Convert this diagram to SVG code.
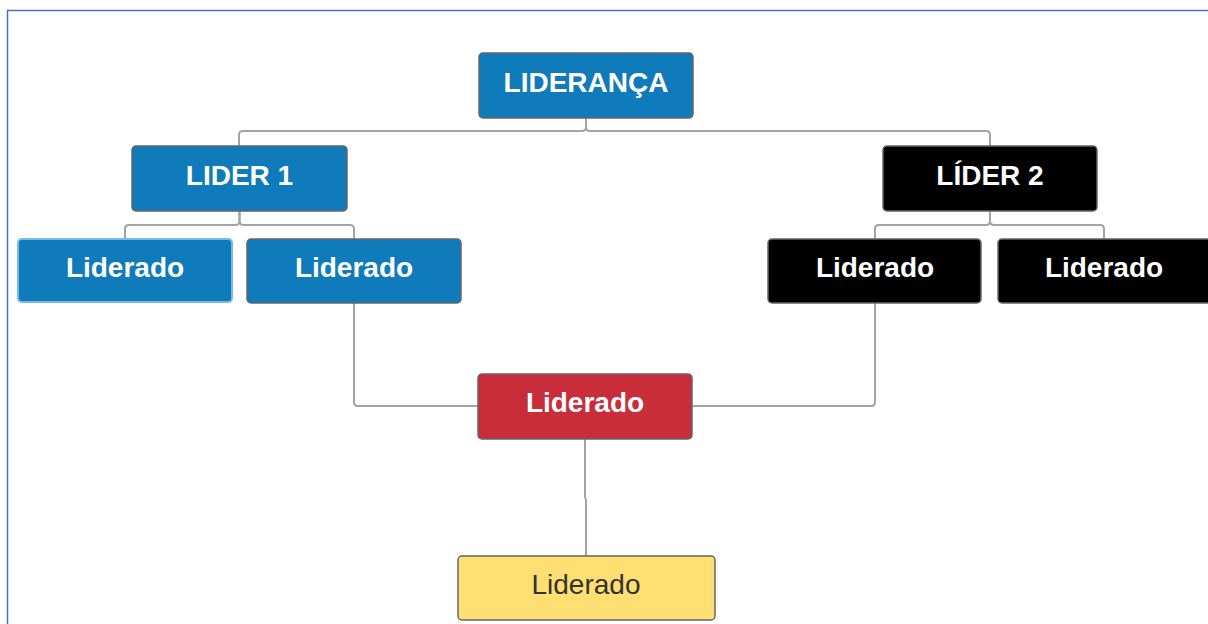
<svg xmlns="http://www.w3.org/2000/svg" width="1208" height="624" viewBox="0 0 1208 624">
<style>
.box{stroke:#666;stroke-width:1.5}
.blue{fill:#0f7bba}
.black{fill:#000}
.red{fill:#c92d39}
.yellow{fill:#ffdf71}
.t{font-family:"Liberation Sans",Arial,sans-serif;font-weight:bold;font-size:28px;fill:#fff;text-anchor:middle}
.ty{font-family:"Liberation Sans",Arial,sans-serif;font-size:28px;fill:#333;text-anchor:middle}
.c{fill:none;stroke:#a3a3a3;stroke-width:2;stroke-linejoin:round}
</style>
<rect width="1208" height="624" fill="#fff"/>
<path d="M7.5,624 V10.5 H1208" fill="none" stroke="#4472c4" stroke-width="1.5"/>
<g id="connectors">
<path class="c" d="M586,118 V127 Q586,131 582,131 H243 Q239,131 239,135 V146"/>
<path class="c" d="M586,118 V127 Q586,131 590,131 H986 Q990,131 990,135 V146"/>
<path class="c" d="M239.5,211 V221 Q239.5,225 235.5,225 H129 Q125,225 125,229 V239"/>
<path class="c" d="M239.5,211 V221 Q239.5,225 243.5,225 H350 Q354,225 354,229 V239"/>
<path class="c" d="M990,211 V221 Q990,225 986,225 H879 Q875,225 875,229 V239"/>
<path class="c" d="M990,211 V221 Q990,225 994,225 H1100 Q1104,225 1104,229 V239"/>
<path class="c" d="M354,303 V402 Q354,406 358,406 H478"/>
<path class="c" d="M875,303 V402 Q875,406 871,406 H692"/>
<path class="c" d="M585,439 V497 L586,500 V556"/>
</g>
<g id="lideranca"><rect class="box blue" x="479" y="53" width="214" height="65" rx="4"/><text class="t" x="586" y="92">LIDERANÇA</text></g>
<g id="lider1"><rect class="box blue" x="132" y="146" width="215" height="65" rx="4"/><text class="t" x="239.5" y="185">LIDER 1</text></g>
<g id="lider2"><rect class="box black" x="883" y="146" width="214" height="65" rx="4"/><text class="t" x="990" y="185">LÍDER 2</text></g>
<g id="liderado1a"><rect class="blue" x="18" y="239" width="214" height="63" rx="4" stroke="#7ab8e6" stroke-width="2"/><text class="t" x="125" y="277">Liderado</text></g>
<g id="liderado1b"><rect class="box blue" x="247" y="239" width="214" height="64" rx="4"/><text class="t" x="354" y="277">Liderado</text></g>
<g id="liderado2a"><rect class="box black" x="768" y="239" width="213" height="64" rx="4"/><text class="t" x="875" y="277">Liderado</text></g>
<g id="liderado2b"><rect class="box black" x="998" y="239" width="214" height="64" rx="4"/><text class="t" x="1104" y="277">Liderado</text></g>
<g id="lideradoRed"><rect class="box red" x="478" y="374" width="214" height="65" rx="4"/><text class="t" x="585" y="412">Liderado</text></g>
<g id="lideradoYellow"><rect class="box yellow" x="458" y="556" width="257" height="64" rx="4"/><text class="ty" x="586" y="594">Liderado</text></g>
</svg>
